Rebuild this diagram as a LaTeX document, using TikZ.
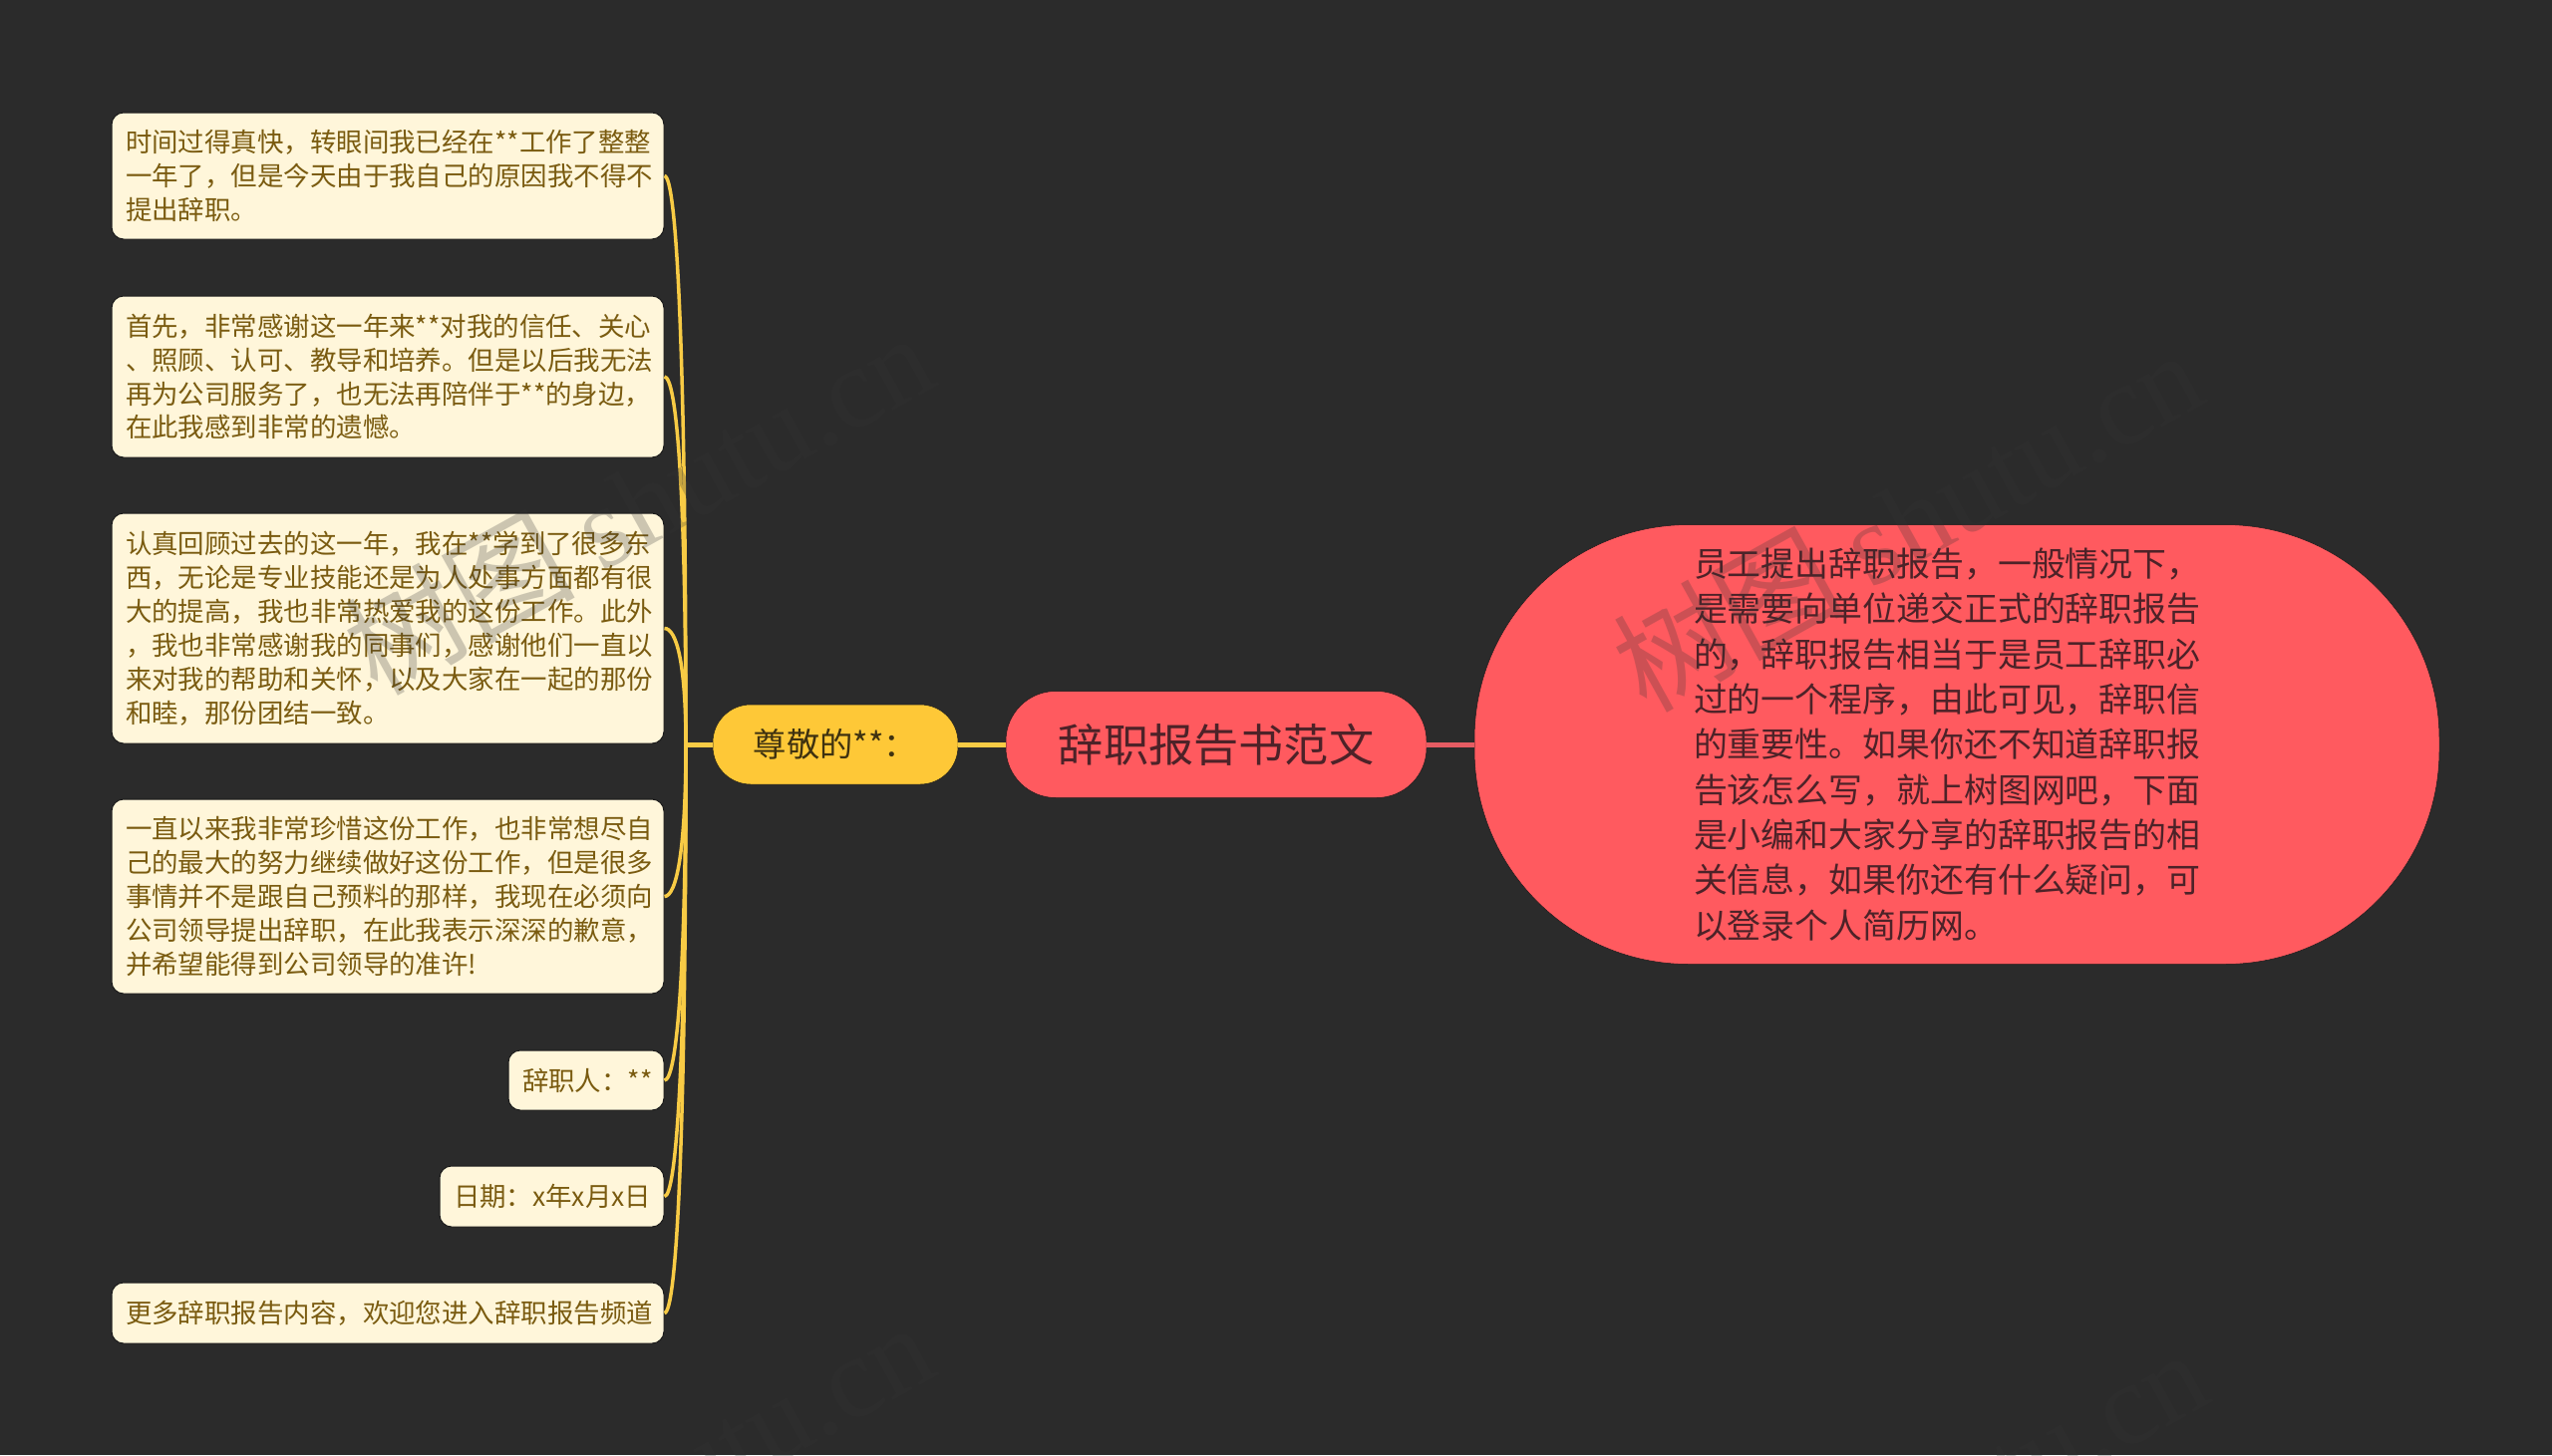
\documentclass[tikz,border=0pt]{standalone}
\usepackage{fontspec}
\setmainfont{Noto Sans CJK SC}
\newfontfamily\wmlatin{Liberation Serif}
\definecolor{bgc}{HTML}{2B2B2B}
\definecolor{redc}{HTML}{FF5A5F}
\definecolor{redl}{HTML}{E55C63}
\definecolor{redt}{HTML}{4D2228}
\definecolor{yelc}{HTML}{FEC837}
\definecolor{yell}{HTML}{F8CB45}
\definecolor{yelt}{HTML}{3F3210}
\definecolor{leafc}{HTML}{FFF6DA}
\definecolor{leaft}{HTML}{7A5B10}
\definecolor{edgec}{HTML}{1A1A1A}
\definecolor{wmc}{HTML}{353535}
\tikzset{
  leafbox/.style={fill=leafc,draw=edgec,line width=1pt,rounded corners=12pt,inner xsep=14pt,inner ysep=0pt,
    align=left,text=leaft,font=\fontsize{26.45}{33.9}\selectfont,minimum height=#1},
  pill/.style={draw=edgec,line width=.5pt,inner sep=0pt},
  leafwire/.style={draw=yell,line width=3.5pt},
  yelwire/.style={draw=yell,line width=5pt},
  redwire/.style={draw=redl,line width=5pt},
  wmark/.style={rotate=29,text=wmc,text opacity=.25,inner sep=0pt,font=\fontsize{116}{116}\selectfont}
}
\newcommand{\wmtext}{树图 {\wmlatin shutu.cn}}
\begin{document}
\begin{tikzpicture}[x=1pt,y=-1pt]
\useasboundingbox (0,0) rectangle (2560,1460);
\fill[bgc] (0,0) rectangle (2560,1460);

\node[leafbox=127pt,text width=526pt] (n1) at (389,176.5) {时间过得真快，转眼间我已经在**工作了整整\\一年了，但是今天由于我自己的原因我不得不\\提出辞职。};
\node[leafbox=162pt,text width=526pt] (n2) at (389,378) {首先，非常感谢这一年来**对我的信任、关心\\、照顾、认可、教导和培养。但是以后我无法\\再为公司服务了，也无法再陪伴于**的身边，\\在此我感到非常的遗憾。};
\node[leafbox=231pt,text width=526pt] (n3) at (389,630.5) {认真回顾过去的这一年，我在**学到了很多东\\西，无论是专业技能还是为人处事方面都有很\\大的提高，我也非常热爱我的这份工作。此外\\，我也非常感谢我的同事们，感谢他们一直以\\来对我的帮助和关怀，以及大家在一起的那份\\和睦，那份团结一致。};
\node[leafbox=195pt,text width=526pt] (n4) at (389,899.5) {一直以来我非常珍惜这份工作，也非常想尽自\\己的最大的努力继续做好这份工作，但是很多\\事情并不是跟自己预料的那样，我现在必须向\\公司领导提出辞职，在此我表示深深的歉意，\\并希望能得到公司领导的准许!};
\node[leafbox=60pt,text width=128pt] (n5) at (588,1084) {辞职人：**};
\node[leafbox=61pt,text width=197pt] (n6) at (553.5,1200.5) {日期：x年x月x日};
\node[leafbox=61pt,text width=526pt] (n7) at (389,1317.5) {更多辞职报告内容，欢迎您进入辞职报告频道};

\node[pill,fill=yelc,rounded corners=38pt,minimum width=246pt,minimum height=80pt,text=yelt,font=\fontsize{33.3}{40}\selectfont] (yn) at (838,747) {尊敬的**：};
\node[pill,fill=redc,rounded corners=50pt,minimum width=422pt,minimum height=107pt,text=redt,font=\fontsize{45.2}{54}\selectfont] (root) at (1220,747) {辞职报告书范文};
\node[pill,fill=redc,rounded corners=215pt,minimum width=968pt,minimum height=441pt,inner xsep=220pt,text width=528pt,align=left,text=redt,font=\fontsize{33.9}{45.3}\selectfont] (big) at (1963,747) {员工提出辞职报告，一般情况下，\\是需要向单位递交正式的辞职报告\\的，辞职报告相当于是员工辞职必\\过的一个程序，由此可见，辞职信\\的重要性。如果你还不知道辞职报\\告该怎么写，就上树图网吧，下面\\是小编和大家分享的辞职报告的相\\关信息，如果你还有什么疑问，可\\以登录个人简历网。};

\coordinate (trunk) at (688,747);
\draw[leafwire] (n1.east) .. controls +(12,0) and +(0,-400) .. (trunk);
\draw[leafwire] (n2.east) .. controls +(12,0) and +(0,-259) .. (trunk);
\draw[leafwire] (n3.east) .. controls +(12,0) and +(0,-82) .. (trunk);
\draw[leafwire] (n4.east) .. controls +(12,0) and +(0,107) .. (trunk);
\draw[leafwire] (n5.east) .. controls +(12,0) and +(0,235) .. (trunk);
\draw[leafwire] (n6.east) .. controls +(12,0) and +(0,316) .. (trunk);
\draw[leafwire] (n7.east) .. controls +(12,0) and +(0,400) .. (trunk);
\draw[yelwire] (trunk) -- (yn.west);
\draw[yelwire] (yn.east) -- (root.west);
\draw[redwire] (root.east) -- (big.west);

\begin{scope}
\clip (0,0) rectangle (2560,1460);
\node[wmark] (wm1) at (640,504) {\wmtext};
\node[wmark] (wm2) at (1913,521) {\wmtext};
\node[wmark] (wm3) at (640,1497) {\wmtext};
\node[wmark] (wm4) at (1918,1524) {\wmtext};
\end{scope}
\end{tikzpicture}
\end{document}
